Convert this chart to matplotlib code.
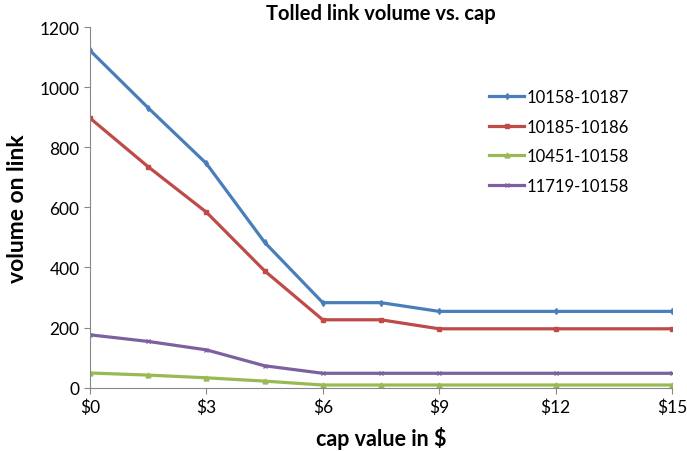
import matplotlib
matplotlib.use("Agg")
import matplotlib.pyplot as plt
from matplotlib.ticker import FuncFormatter

cap = [0, 1.5, 3, 4.5, 6, 7.5, 9, 12, 15]
s_10158_10187 = [1122, 931, 746, 484, 283, 283, 254, 254, 254]
s_10185_10186 = [897, 735, 584, 389, 226, 226, 196, 196, 196]
s_10451_10158 = [49, 42, 33, 22, 9, 9, 9, 9, 9]
s_11719_10158 = [176, 154, 126, 73, 48, 48, 48, 48, 48]
labels = ["10158-10187", "10185-10186", "10451-10158", "11719-10158"]

plt.rcParams['font.family'] = ['Lato', 'DejaVu Sans']

fig = plt.figure(figsize=(6.87, 4.52), dpi=100)
ax = fig.add_axes([0.131, 0.14, 0.847, 0.798])

styles = [
    (s_10158_10187, "#4A7EBB", "d", 3),
    (s_10185_10186, "#BE4B48", "s", 3.5),
    (s_10451_10158, "#98B954", "^", 3.5),
    (s_11719_10158, "#7D60A0", "x", 3.5),
]
for (vals, col, mk, ms), lab in zip(styles, labels):
    ax.plot(cap, vals, color=col, lw=2.3, marker=mk, ms=ms, mew=1, label=lab)

ax.set_xlim(0, 15)
ax.set_ylim(0, 1200)
ax.set_xticks([0, 3, 6, 9, 12, 15])
ax.set_yticks(range(0, 1201, 200))
ax.xaxis.set_major_formatter(FuncFormatter(lambda v, p: f"${int(v)}"))
for s in ["top", "right"]:
    ax.spines[s].set_visible(False)
for s in ["left", "bottom"]:
    ax.spines[s].set_color("#888888")
ax.tick_params(axis="both", colors="#888888", labelcolor="black", labelsize=12.5, length=4)
ax.set_xlabel("cap value in $", fontsize=15.5, fontweight="bold", labelpad=8)
ax.set_ylabel("volume on link", fontsize=16.5, fontweight="bold", labelpad=8)
ax.set_title("Tolled link volume vs. cap", fontsize=14.5, fontweight="bold", pad=6)

leg = ax.legend(loc="upper left", bbox_to_anchor=(0.66, 0.87), frameon=False,
                fontsize=12, handlelength=2.1, labelspacing=0.82, handletextpad=0.15)

fig.savefig("out.png", dpi=100)
